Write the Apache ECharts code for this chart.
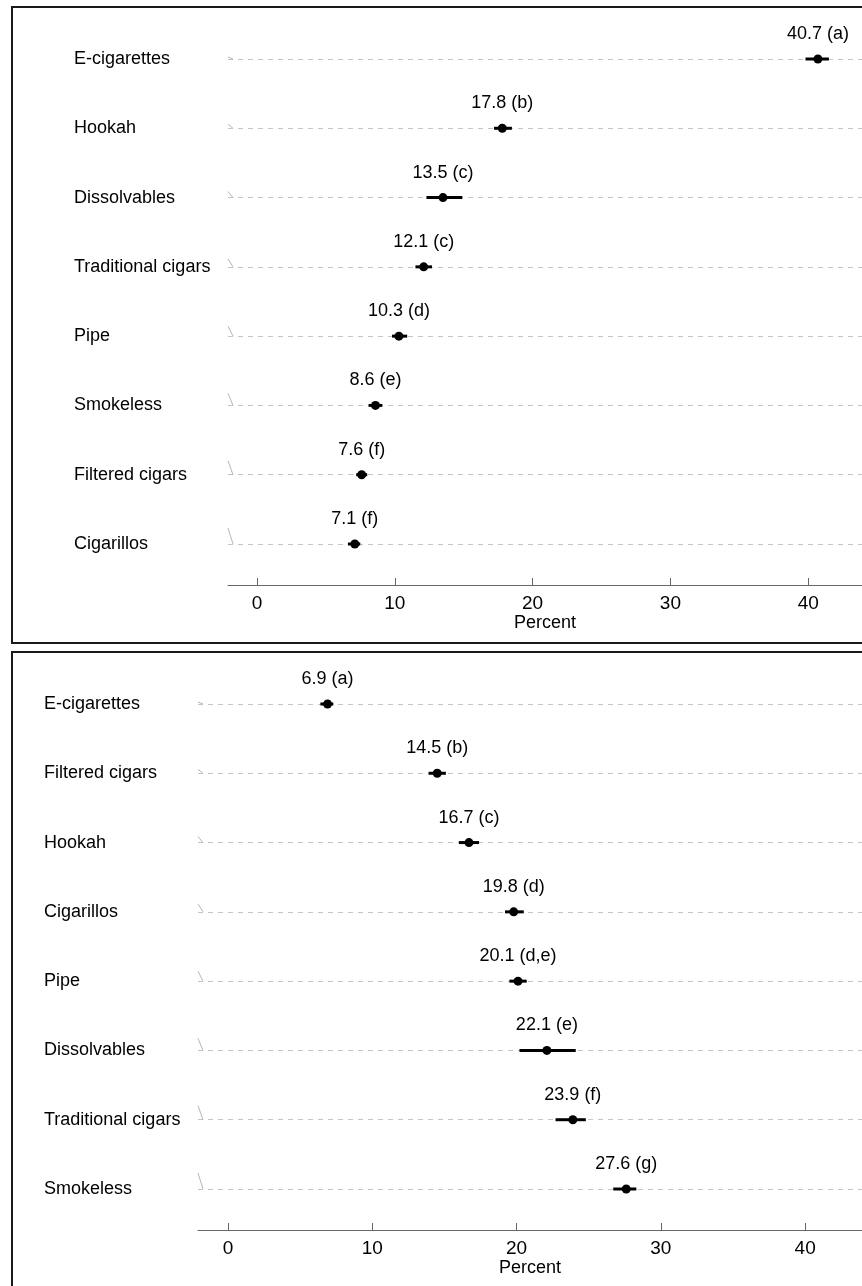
<!DOCTYPE html>
<html>
<head>
<meta charset="utf-8">
<script src="https://cdn.jsdelivr.net/npm/echarts@6/dist/echarts.min.js"></script>
<style>
  html, body { margin: 0; padding: 0; background: #fff; }
  #main { width: 862px; height: 1286px; }
</style>
</head>
<body>
<div id="main"></div>
<script>
// upper panel
var topCats = ['E-cigarettes', 'Hookah', 'Dissolvables', 'Traditional cigars', 'Pipe', 'Smokeless', 'Filtered cigars', 'Cigarillos'];
var topVals = [40.7, 17.8, 13.5, 12.1, 10.3, 8.6, 7.6, 7.1];
var topLow = [39.8, 17.2, 12.3, 11.5, 9.8, 8.1, 7.2, 6.6];
var topHigh = [41.5, 18.5, 14.9, 12.7, 10.9, 9.1, 8.0, 7.5];
var topGroups = ['a', 'b', 'c', 'c', 'd', 'e', 'f', 'f'];

// lower panel
var botCats = ['E-cigarettes', 'Filtered cigars', 'Hookah', 'Cigarillos', 'Pipe', 'Dissolvables', 'Traditional cigars', 'Smokeless'];
var botVals = [6.9, 14.5, 16.7, 19.8, 20.1, 22.1, 23.9, 27.6];
var botLow = [6.4, 13.9, 16.0, 19.2, 19.5, 20.2, 22.7, 26.7];
var botHigh = [7.3, 15.1, 17.4, 20.5, 20.7, 24.1, 24.8, 28.3];
var botGroups = ['a', 'b', 'c', 'd', 'd,e', 'e', 'f', 'g'];

var xTicks = [0, 10, 20, 30, 40];

var FONT = 'Liberation Sans, Arial, sans-serif';

function buildData(vals, low, high) {
    var out = [];
    for (var i = 0; i < vals.length; i++) {
        out.push([i, vals[i], low[i], high[i]]);
    }
    return out;
}

function makeRender(groups) {
    return function(params, api) {
        var i = api.value(0);
        var c = api.coord([api.value(1), i]);
        var lo = api.coord([api.value(2), i]);
        var hi = api.coord([api.value(3), i]);
        var cs = params.coordSys;
        var h = 2 + 2 * i; // little slanted stub at the start of each row
        return {
            type: 'group',
            children: [{
                type: 'line',
                shape: { x1: cs.x, y1: c[1] - h, x2: cs.x + 5, y2: c[1] },
                style: { stroke: '#b5b5b5', lineWidth: 1 }
            }, {
                type: 'line',
                shape: { x1: lo[0], y1: c[1], x2: hi[0], y2: c[1] },
                style: { stroke: '#000', lineWidth: 3 }
            }, {
                type: 'circle',
                shape: { cx: c[0], cy: c[1], r: 4.5 },
                style: { fill: '#000' }
            }, {
                type: 'text',
                x: c[0],
                y: c[1] - 25,
                style: {
                    text: api.value(1).toFixed(1) + ' (' + groups[params.dataIndex] + ')',
                    fill: '#000',
                    font: '18px ' + FONT,
                    align: 'center',
                    verticalAlign: 'middle'
                }
            }]
        };
    };
}

function xAxisOpt(idx, min, max) {
    return {
        gridIndex: idx,
        type: 'value',
        min: min,
        max: max,
        position: 'bottom',
        offset: 41,
        name: 'Percent',
        nameLocation: 'middle',
        nameGap: 27,
        nameTextStyle: { color: '#000', fontSize: 18, fontFamily: FONT },
        axisLine: { show: true, lineStyle: { color: '#666', width: 1 } },
        axisTick: { show: true, inside: true, length: 7, customValues: xTicks, lineStyle: { color: '#666' } },
        axisLabel: { customValues: xTicks, color: '#000', fontSize: 19, fontFamily: FONT, margin: 9 },
        splitLine: { show: false }
    };
}

function yAxisOpt(idx, cats) {
    return {
        gridIndex: idx,
        type: 'category',
        data: cats,
        inverse: true,
        boundaryGap: false,
        axisLine: { show: false },
        axisTick: { show: false },
        axisLabel: {
            align: 'left',
            margin: 154,
            color: '#000',
            fontSize: 18,
            fontFamily: FONT,
            padding: [6, 0, 0, 0]
        },
        splitLine: { show: true, lineStyle: { color: '#c4c4c4', type: [5, 5], width: 1 } }
    };
}

var chart = echarts.init(document.getElementById('main'));

chart.setOption({
    backgroundColor: '#fff',
    animation: false,
    graphic: [{
        type: 'rect',
        shape: { x: 12, y: 7, width: 900, height: 636 },
        style: { fill: 'none', stroke: '#1a1a1a', lineWidth: 2 }
    }, {
        type: 'rect',
        shape: { x: 12, y: 652, width: 900, height: 700 },
        style: { fill: 'none', stroke: '#1a1a1a', lineWidth: 2 }
    }],
    grid: [
        { left: 228, right: 0, top: 59, height: 485 },
        { left: 198, right: 0, top: 704, height: 485 }
    ],
    xAxis: [
        xAxisOpt(0, -2.1, 43.9),
        xAxisOpt(1, -2.08, 43.94)
    ],
    yAxis: [
        yAxisOpt(0, topCats),
        yAxisOpt(1, botCats)
    ],
    series: [{
        type: 'custom',
        xAxisIndex: 0,
        yAxisIndex: 0,
        renderItem: makeRender(topGroups),
        encode: { x: [1, 2, 3], y: 0 },
        data: buildData(topVals, topLow, topHigh)
    }, {
        type: 'custom',
        xAxisIndex: 1,
        yAxisIndex: 1,
        renderItem: makeRender(botGroups),
        encode: { x: [1, 2, 3], y: 0 },
        data: buildData(botVals, botLow, botHigh)
    }]
});
</script>
</body>
</html>
